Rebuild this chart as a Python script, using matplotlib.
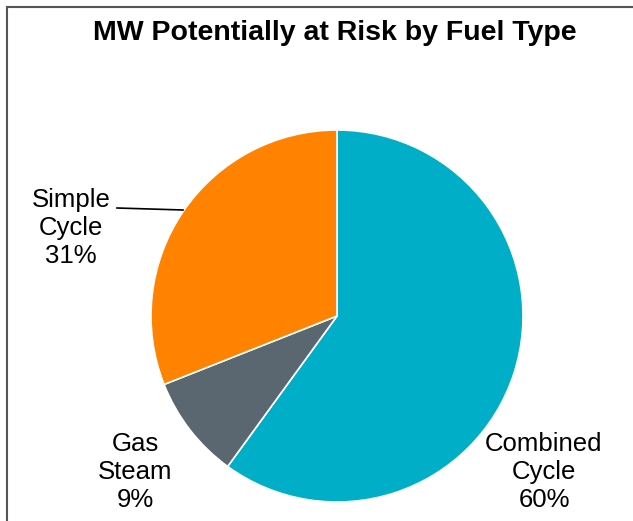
import matplotlib
matplotlib.use('Agg')
import matplotlib.pyplot as plt
from matplotlib.lines import Line2D

plt.rcParams['font.family'] = ['Liberation Sans', 'DejaVu Sans']

fuel = ['Combined\nCycle', 'Gas\nSteam', 'Simple\nCycle']
share = [60, 9, 31]
colori = ['#00AEC7', '#5B6770', '#FF8200']

W, H = 633, 521
fig = plt.figure(figsize=(W / 100, H / 100), dpi=100)
ax = fig.add_axes([0, 0, 1, 1])
ax.set_xlim(0, W)
ax.set_ylim(0, H)
ax.set_aspect('equal')
ax.axis('off')

# pie in pixel coords (y from bottom)
cx, cy, r = 337, H - 316, 186
ax.pie(share, colors=colori, startangle=90, counterclock=False,
       center=(cx, cy), radius=r,
       wedgeprops=dict(edgecolor='white', linewidth=1.2))
ax.set_xlim(0, W)
ax.set_ylim(0, H)

# etichette
pos = [(544, H - 472), (135, H - 472), (71, H - 228)]
for nome, val, (x, y) in zip(fuel, share, pos):
    ax.text(x, y, nome + '\n' + str(val) + '%', ha='center', va='center',
            fontsize=18.5, linespacing=1.2, color='black')

# linea guida Simple Cycle
ax.plot([117, 183], [H - 208, H - 210], color='black', lw=1.2)

fig.text(335 / W, 1 - 33 / H, 'MW Potentially at Risk by Fuel Type',
         ha='center', va='center', fontsize=20.5, fontweight='bold')

# bordo (solo sopra e a sinistra)
fig.add_artist(Line2D([7 / W, 7 / W], [0, 1 - 7 / H], transform=fig.transFigure,
                      color='#555555', lw=1.5))
fig.add_artist(Line2D([7 / W, 1], [1 - 7 / H, 1 - 7 / H], transform=fig.transFigure,
                      color='#555555', lw=1.5))

fig.savefig('out.png', dpi=100, facecolor='white')
